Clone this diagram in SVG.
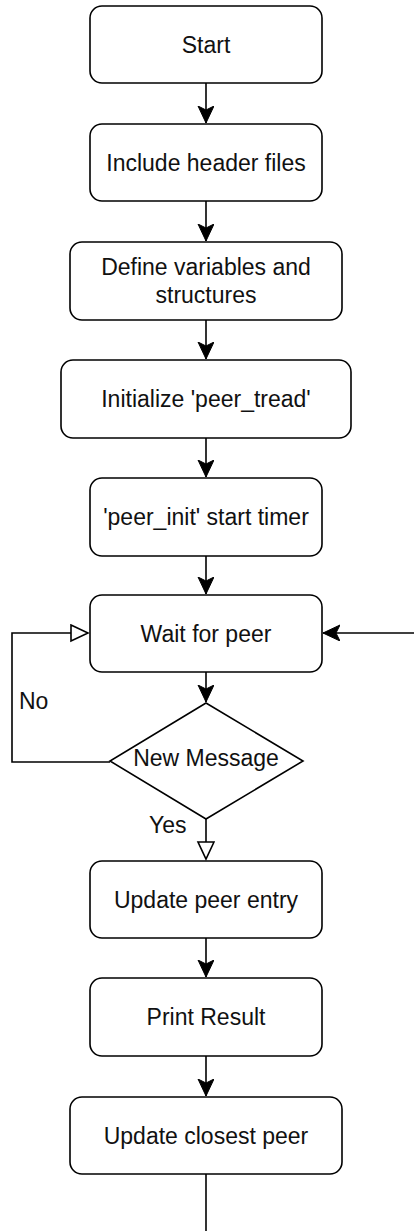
<svg xmlns="http://www.w3.org/2000/svg" width="414" height="1231" viewBox="0 0 414 1231">
<style>
.box{fill:#fff;stroke:#000;stroke-width:1.6}
.t{font-family:"Liberation Sans",Arial,sans-serif;font-size:23px;fill:#111;text-anchor:middle}
.lbl{font-family:"Liberation Sans",Arial,sans-serif;font-size:23px;fill:#111}
.e{fill:none;stroke:#000;stroke-width:1.6}
</style>
<defs>
<marker id="classic" markerUnits="userSpaceOnUse" markerWidth="18" markerHeight="17" refX="17" refY="8" orient="auto" viewBox="0 0 18 17">
<path d="M17,8 L0,0 L4,8 L0,16 Z" fill="#000" stroke="#000" stroke-width="1"/>
</marker>
<marker id="block" markerUnits="userSpaceOnUse" markerWidth="20" markerHeight="20" refX="18" refY="9" orient="auto" viewBox="0 0 20 20">
<path d="M1,1 L18,9 L1,17 Z" fill="#fff" stroke="#000" stroke-width="1.6"/>
</marker>
</defs>
<g id="connectors">
<path class="e" d="M206,83 L206,123" marker-end="url(#classic)"/>
<path class="e" d="M206,201 L206,241" marker-end="url(#classic)"/>
<path class="e" d="M206,320 L206,359" marker-end="url(#classic)"/>
<path class="e" d="M206,438 L206,477" marker-end="url(#classic)"/>
<path class="e" d="M206,556 L206,594" marker-end="url(#classic)"/>
<path class="e" d="M206,672 L206,702" marker-end="url(#classic)"/>
<path class="e" d="M110,762 L12,762 L12,633 L88,633" marker-end="url(#block)"/>
<path class="e" d="M206,819 L206,859" marker-end="url(#block)"/>
<path class="e" d="M206,938 L206,977" marker-end="url(#classic)"/>
<path class="e" d="M206,1056 L206,1096" marker-end="url(#classic)"/>
<path class="e" d="M206,1174 L206,1231"/>
<path class="e" d="M414,633 L323,633" marker-end="url(#classic)"/>
<text class="lbl" x="19" y="709">No</text>
<text class="lbl" x="149" y="833">Yes</text>
</g>
<g id="start"><rect class="box" x="90" y="6" width="232" height="77" rx="12"/><text class="t" x="206" y="52.5">Start</text></g>
<g id="include"><rect class="box" x="90" y="124" width="232" height="77" rx="12"/><text class="t" x="206" y="170.5">Include header files</text></g>
<g id="define"><rect class="box" x="70" y="242" width="272" height="78" rx="12"/><text class="t" x="206" y="275">Define variables and</text><text class="t" x="206" y="303">structures</text></g>
<g id="init"><rect class="box" x="61" y="360" width="290" height="78" rx="12"/><text class="t" x="206" y="407">Initialize 'peer_tread'</text></g>
<g id="peerinit"><rect class="box" x="90" y="478" width="232" height="78" rx="12"/><text class="t" x="206" y="525">'peer_init' start timer</text></g>
<g id="wait"><rect class="box" x="90" y="595" width="232" height="77" rx="12"/><text class="t" x="206" y="641.5">Wait for peer</text></g>
<g id="decision"><path class="box" d="M206,703 L303,761 L206,819 L110,761 Z"/><text class="t" x="206" y="766">New Message</text></g>
<g id="update"><rect class="box" x="90" y="861" width="232" height="77" rx="12"/><text class="t" x="206" y="907.5">Update peer entry</text></g>
<g id="print"><rect class="box" x="90" y="978" width="232" height="78" rx="12"/><text class="t" x="206" y="1025">Print Result</text></g>
<g id="closest"><rect class="box" x="70" y="1097" width="272" height="77" rx="12"/><text class="t" x="206" y="1143.5">Update closest peer</text></g>
</svg>
